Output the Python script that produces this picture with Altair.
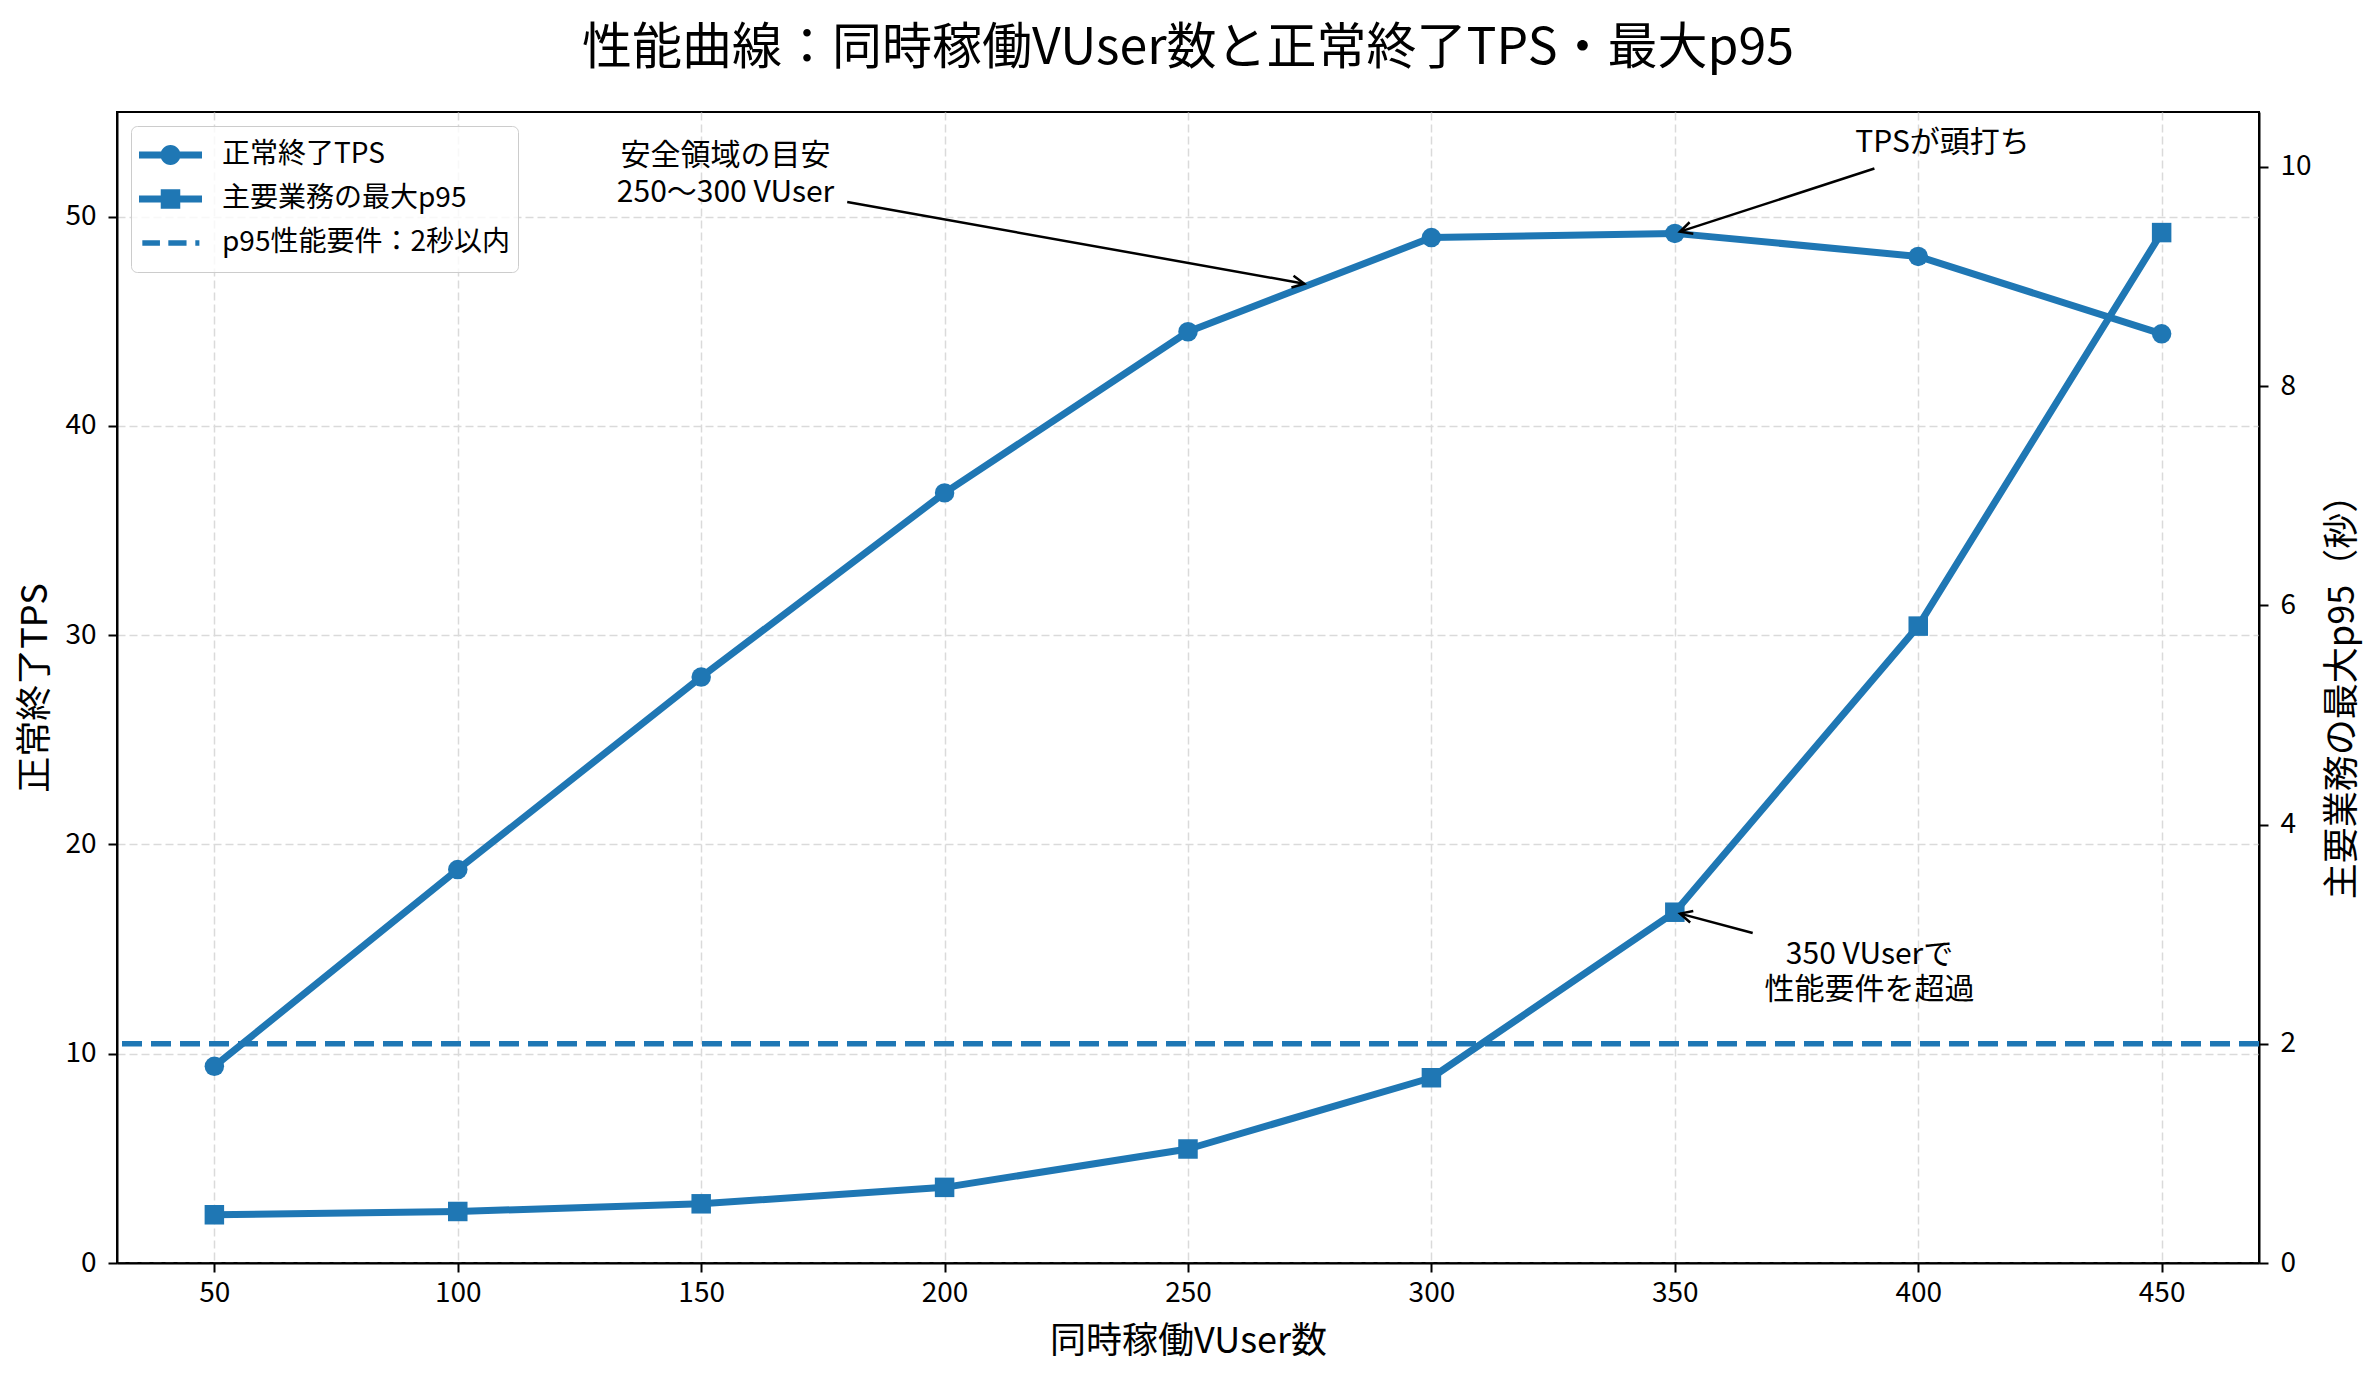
import math
import pandas as pd
import altair as alt

# ---------------- data ----------------
VUSER = [50, 100, 150, 200, 250, 300, 350, 400, 450]
TPS = [9.4, 18.8, 28.0, 36.8, 44.5, 49.0, 49.2, 48.1, 44.4]
P95 = [0.44, 0.47, 0.54, 0.69, 1.04, 1.69, 3.2, 5.81, 9.4]
THRESHOLD = [2.0]

SERIES = ["正常終了TPS", "主要業務の最大p95", "p95性能要件：2秒以内"]

X_TICKS = [50, 100, 150, 200, 250, 300, 350, 400, 450]
YL_TICKS = [0, 10, 20, 30, 40, 50]
YR_TICKS = [0, 2, 4, 6, 8, 10]

TITLE = "性能曲線：同時稼働VUser数と正常終了TPS・最大p95"
X_TITLE = "同時稼働VUser数"
YL_TITLE = "正常終了TPS"
YR_TITLE = "主要業務の最大p95（秒）"

# annotations: text, text position, arrow start, arrow target
ANN_LEFT_TEXT = ["安全領域の目安\n250〜300 VUser", "TPSが頭打ち"]
ANN_LEFT_TX = [155, 405]
ANN_LEFT_TY = [52.0, 53.5]
ANN_LEFT_SX = [180, 391]
ANN_LEFT_SY = [50.7, 52.3]
ANN_LEFT_EX = [275, 350]
ANN_LEFT_EY = [46.75, 49.2]

ANN_RIGHT_TEXT = ["350 VUserで\n性能要件を超過"]
ANN_RIGHT_TX = [390]
ANN_RIGHT_TY = [2.65]
ANN_RIGHT_SX = [366]
ANN_RIGHT_SY = [3.01]
ANN_RIGHT_EX = [350]
ANN_RIGHT_EY = [3.2]

# ---------------- style ----------------
FONT = "Noto Sans CJK JP"
BLUE = "#1f77b4"
W, H = 2142, 1151
X_DOM = [30, 470]
YL_DOM = [0, 55]
YR_DOM = [0, 10.5]
ANN_FS = 30

xs = alt.Scale(domain=X_DOM, nice=False, zero=False)
yls = alt.Scale(domain=YL_DOM, nice=False)
yrs = alt.Scale(domain=YR_DOM, nice=False)

x_axis = alt.Axis(title=X_TITLE, values=X_TICKS, grid=True, labelPadding=7,
                  titlePadding=17, labelFlush=False)
yl_axis = alt.Axis(title=YL_TITLE, values=YL_TICKS, grid=True, labelPadding=12,
                   titlePadding=10)
yr_axis = alt.Axis(title=YR_TITLE, values=YR_TICKS, grid=False, orient="right",
                   labelPadding=12, titlePadding=14, titleAngle=270,
                   titleBaseline="top")

# legend symbols (paths in the -1..1 box)
P_CIRCLE = ("M-1,-0.111H1V0.111H-1Z "
            "M0.317,0A0.317,0.317 0 1,1 -0.317,0A0.317,0.317 0 1,1 0.317,0Z")
P_SQUARE = "M-1,-0.111H1V0.111H-1Z M-0.31,-0.31H0.31V0.31H-0.31Z"
P_DASH = ("M-0.894,-0.09H-0.335V0.09H-0.894Z "
          "M-0.069,-0.09H0.509V0.09H-0.069Z "
          "M0.788,-0.09H0.917V0.09H0.788Z")

shape_scale = alt.Scale(domain=SERIES, range=[P_CIRCLE, P_SQUARE, P_DASH])
legend = alt.Legend(
    title=None, orient="top-left", offset=14, padding=8,
    symbolSize=3969, symbolOpacity=1, symbolFillColor=BLUE,
    symbolStrokeWidth=0, clipHeight=42, rowPadding=2,
    labelFont=FONT, labelFontSize=28, labelColor="black",
    labelLimit=600, labelOffset=20,
    fillColor="rgba(255,255,255,0.8)", strokeColor="#cccccc",
    cornerRadius=6,
)

df = pd.DataFrame({"vuser": VUSER, "tps": TPS, "p95": P95})


# ---------------- annotation geometry ----------------
def to_px(x, y, ydom):
    return ((x - X_DOM[0]) / (X_DOM[1] - X_DOM[0]) * W,
            H - (y - ydom[0]) / (ydom[1] - ydom[0]) * H)


def from_px(px, py, ydom):
    return (X_DOM[0] + px / W * (X_DOM[1] - X_DOM[0]),
            ydom[0] + (H - py) / H * (ydom[1] - ydom[0]))


def arrows(sx, sy, ex, ey, ydom, shrink=5.5):
    rows = []
    for a, b, c, d in zip(sx, sy, ex, ey):
        p0 = to_px(a, b, ydom)
        p1 = to_px(c, d, ydom)
        dx, dy = p1[0] - p0[0], p1[1] - p0[1]
        L = math.hypot(dx, dy)
        ux, uy = dx / L, dy / L
        tip = from_px(p1[0] - ux * shrink, p1[1] - uy * shrink, ydom)
        ang = math.degrees(math.atan2(uy, ux)) % 360
        rows.append({"sx": a, "sy": b, "tx": tip[0], "ty": tip[1], "ang": ang})
    return rows


HEAD = "M-1,-0.5L0,0L-1,0.5"


def annotation_layers(texts, tx, ty, sx, sy, ex, ey, ys, yax, ydom, lh):
    layers = []
    for t, x, y in zip(texts, tx, ty):
        n = t.count("\n") + 1
        tdf = pd.DataFrame({"ax": [x], "ay": [y], "label": [t]})
        layers.append(alt.Chart(tdf).mark_text(
            font=FONT, fontSize=ANN_FS, color="black", align="center",
            baseline="middle", lineBreak="\n", lineHeight=lh,
            dy=-(n - 1) * lh / 2
        ).encode(
            x=alt.X("ax:Q", scale=xs, axis=x_axis),
            y=alt.Y("ay:Q", scale=ys, axis=yax),
            text="label:N",
        ))
    arr = arrows(sx, sy, ex, ey, ydom)
    adf = pd.DataFrame(arr)
    layers.append(alt.Chart(adf).mark_rule(color="black", strokeWidth=2.5).encode(
        x=alt.X("sx:Q", scale=xs, axis=x_axis),
        y=alt.Y("sy:Q", scale=ys, axis=yax),
        x2="tx:Q", y2="ty:Q",
    ))
    for r in arr:
        hdf = pd.DataFrame([r])
        layers.append(
            alt.Chart(hdf).mark_point(
                shape=HEAD, size=576, filled=False, color="black",
                strokeWidth=2.5, angle=r["ang"], opacity=1
            ).encode(
                x=alt.X("tx:Q", scale=xs, axis=x_axis),
                y=alt.Y("ty:Q", scale=ys, axis=yax),
            )
        )
    return layers


base = alt.Chart(df)

# ---- left (TPS) ----
tps_line = base.mark_line(color=BLUE, strokeWidth=7, strokeJoin="round").encode(
    x=alt.X("vuser:Q", scale=xs, axis=x_axis),
    y=alt.Y("tps:Q", scale=yls, axis=yl_axis),
)
tps_pts = base.mark_point(shape="circle", filled=True, size=380, color=BLUE,
                          opacity=1).encode(
    x=alt.X("vuser:Q", scale=xs, axis=x_axis),
    y=alt.Y("tps:Q", scale=yls, axis=yl_axis),
)
tps_leg = base.transform_calculate(series="'" + SERIES[0] + "'").mark_point(
    filled=True, color=BLUE, opacity=0
).encode(
    x=alt.X("vuser:Q", scale=xs, axis=x_axis),
    y=alt.Y("tps:Q", scale=yls, axis=yl_axis),
    shape=alt.Shape("series:N", scale=shape_scale, legend=legend),
)
left = alt.layer(
    tps_line, tps_pts, tps_leg,
    *annotation_layers(ANN_LEFT_TEXT, ANN_LEFT_TX, ANN_LEFT_TY, ANN_LEFT_SX,
                       ANN_LEFT_SY, ANN_LEFT_EX, ANN_LEFT_EY, yls, yl_axis,
                       YL_DOM, 37)
)

# ---- right (p95) ----
p95_line = base.mark_line(color=BLUE, strokeWidth=7, strokeJoin="round").encode(
    x=alt.X("vuser:Q", scale=xs, axis=x_axis),
    y=alt.Y("p95:Q", scale=yrs, axis=yr_axis),
)
p95_pts = base.mark_point(shape="square", filled=True, size=380, color=BLUE,
                          opacity=1).encode(
    x=alt.X("vuser:Q", scale=xs, axis=x_axis),
    y=alt.Y("p95:Q", scale=yrs, axis=yr_axis),
)
p95_leg = base.transform_calculate(series="'" + SERIES[1] + "'").mark_point(
    filled=True, color=BLUE, opacity=0
).encode(
    x=alt.X("vuser:Q", scale=xs, axis=x_axis),
    y=alt.Y("p95:Q", scale=yrs, axis=yr_axis),
    shape=alt.Shape("series:N", scale=shape_scale, legend=legend),
)
thr = alt.Chart(pd.DataFrame({"th": THRESHOLD})).mark_rule(
    color=BLUE, strokeWidth=5.5, strokeDash=[20, 9]
).encode(y=alt.Y("th:Q", scale=yrs, axis=yr_axis))

right = alt.layer(
    thr, p95_line, p95_pts, p95_leg,
    *annotation_layers(ANN_RIGHT_TEXT, ANN_RIGHT_TX, ANN_RIGHT_TY, ANN_RIGHT_SX,
                       ANN_RIGHT_SY, ANN_RIGHT_EX, ANN_RIGHT_EY, yrs, yr_axis,
                       YR_DOM, 35)
)

chart = alt.layer(left, right).resolve_scale(y="independent").properties(
    width=W, height=H,
    title=alt.TitleParams(TITLE, font=FONT, fontSize=50, fontWeight="normal",
                          color="black", anchor="middle", offset=38),
    autosize=alt.AutoSizeParams(type="none"),
    padding={"left": 109, "top": 104, "right": 112, "bottom": 110},
).configure_axis(
    domainColor="black", domainWidth=2, tickColor="black", tickWidth=2,
    tickSize=9, labelFont=FONT, labelFontSize=28, labelColor="black",
    titleFont=FONT, titleFontSize=36, titleFontWeight="normal",
    titleColor="black", gridColor="#dadada", gridDash=[8, 4], gridWidth=1.5,
).configure_view(stroke="black", strokeWidth=2)

chart.save("out.html", embed_options={"renderer": "svg", "actions": False})
